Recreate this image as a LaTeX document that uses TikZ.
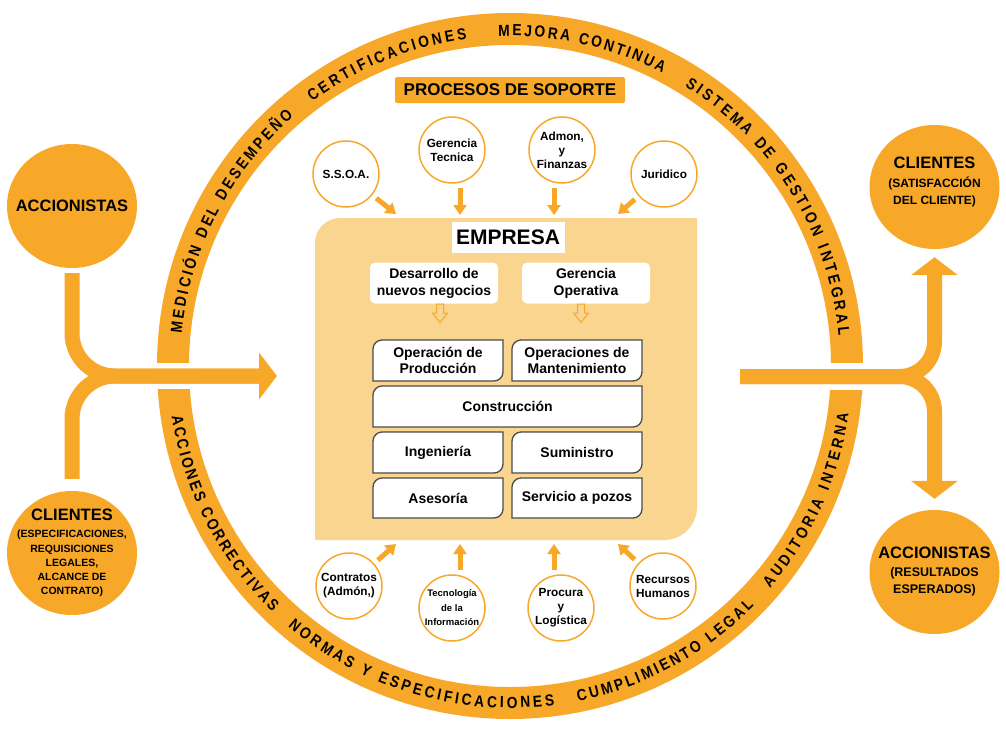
\documentclass[tikz,border=0pt]{standalone}
\usepackage{fontspec}
\setmainfont{Liberation Sans}
\newfontfamily\ringfam{Liberation Sans}[FakeStretch=0.86]
\usetikzlibrary{decorations.text, arrows.meta, shapes.geometric, calc}
\definecolor{org}{HTML}{F7A829}
\definecolor{lightorg}{HTML}{F9D58F}
\definecolor{edge}{HTML}{4A4A4A}
\newcommand\ringfont{\ringfam\bfseries\fontsize{16}{16}\selectfont}
\newcommand\ringtext[4]{%
  \path[decorate,decoration={text along path,text align={fit to path},text={|\ringfont|#4}}]
    (ctr) ++(#1:#3) arc[start angle=#1,end angle=#2,radius=#3];}
\newcommand\gridbox[6]{%
  \draw[gridline] (#2,#5) -- (#2,#3+9) arc[start angle=180,end angle=270,radius=9]
    -- (#4,#3) -- (#4,#5-9) arc[start angle=0,end angle=90,radius=9] -- cycle;
  \node[gridtext] (#1) at ({(#2+#4)/2},{(#3+#5)/2}) {#6};}
\begin{document}
\begin{tikzpicture}[x=1pt,y=-1pt,
  flow/.style={draw=org, line width=15pt},
  bighead/.style={-{Triangle[width=46pt,length=18pt]}},
  sarrow/.style={draw=org, line width=5pt, -{Triangle[width=13pt,length=10pt]}},
  wcirc/.style={circle, draw=org, line width=1.5pt, fill=white, minimum size=66pt, inner sep=0pt, align=center, font=\bfseries\fontsize{11.8}{14}\selectfont},
  ocirc/.style={ellipse, fill=org, minimum width=130pt, minimum height=124pt, inner sep=0pt},
  otext/.style={align=center, inner sep=0pt},
  wbox/.style={rectangle, fill=white, rounded corners=5pt, minimum width=128pt, minimum height=41pt, inner sep=0pt, align=center, font=\bfseries\fontsize{14}{17}\selectfont},
  gridline/.style={draw=edge, line width=1.3pt, fill=white},
  gridtext/.style={align=center, inner sep=0pt, font=\bfseries\fontsize{14}{16}\selectfont}]
\useasboundingbox (0,0) rectangle (1006,736);
\coordinate (ctr) at (510,366);
% ring
\draw[org, line width=32pt] (ctr) circle[radius=337];
\fill[white] (150,363) rectangle (200,389);
\fill[white] (815,363) rectangle (872,390);
% ring texts
\ringtext{-174.4}{-131}{330}{MEDICIÓN DEL DESEMPEÑO}
\ringtext{-126.8}{-97.5}{330}{CERTIFICACIONES}
\ringtext{-92}{-62.5}{330}{MEJORA CONTINUA}
\ringtext{-58}{-5.3}{330}{SISTEMA DE GESTION INTEGRAL}
\ringtext{-188.5}{-226}{342}{ACCIONES CORRECTIVAS}
\ringtext{-229.5}{-277.5}{342}{NORMAS Y ESPECIFICACIONES}
\ringtext{-281.5}{-315.5}{342}{CUMPLIMIENTO LEGAL}
\ringtext{-319.5}{-352}{342}{AUDITORIA INTERNA}
% big side circles
\node[ocirc] (acc1) at (72,206) {};
\node[otext, font=\bfseries\fontsize{16.5}{20}\selectfont] (acc1t) at (acc1) {ACCIONISTAS};
\node[ocirc] (cli1) at (72,553) {};
\node[otext, font=\bfseries\fontsize{10.5}{14.3}\selectfont] (cli1t) at (cli1)
  {{\fontsize{16.5}{18}\selectfont CLIENTES}\\[3pt](ESPECIFICACIONES,\\REQUISICIONES\\LEGALES,\\ALCANCE DE\\CONTRATO)};
\node[ocirc] (cli2) at (934.5,187) {};
\node[otext, font=\bfseries\fontsize{12}{17}\selectfont] (cli2t) at ([yshift=5pt]cli2.center)
  {{\fontsize{16.5}{18}\selectfont CLIENTES}\\[2pt](SATISFACCIÓN\\DEL CLIENTE)};
\node[ocirc] (acc2) at (934.5,572) {};
\node[otext, font=\bfseries\fontsize{12.5}{17}\selectfont] (acc2t) at (acc2)
  {{\fontsize{16.5}{18}\selectfont ACCIONISTAS}\\[1pt](RESULTADOS\\ESPERADOS)};
% left flow
\coordinate (tipL) at (277,376);
\draw[flow, bighead, rounded corners=43, shorten <=5pt] (acc1.south) |- (tipL);
\draw[flow, rounded corners=43, shorten <=12pt, shorten >=18pt] (cli1.north) |- (tipL);
% right flow
\coordinate (srcR) at (740,376.5);
\draw[flow, bighead, rounded corners=35, shorten >=8pt] (srcR) -| (cli2.south);
\draw[flow, bighead, rounded corners=35, shorten >=11pt] (srcR) -| (acc2.north);
% banner
\node[fill=org, minimum width=230pt, minimum height=26pt, rounded corners=2pt, inner sep=0pt,
  font=\bfseries\fontsize{17}{17}\selectfont] (ps) at (510,90) {PROCESOS DE SOPORTE};
% empresa area
\fill[lightorg] (315,540) -- (315,243) arc[start angle=180,end angle=270,radius=25]
  -- (697,218) -- (697,507) arc[start angle=0,end angle=90,radius=33] -- cycle;
\node[fill=white, minimum width=113pt, minimum height=31pt, inner sep=0pt,
  font=\bfseries\fontsize{21}{21}\selectfont] (emp) at (508,237) {EMPRESA};
\node[wbox] (des) at (434,283) {Desarrollo de\\nuevos negocios};
\node[wbox] (gop) at (586,283) {Gerencia\\Operativa};
\draw[org, fill=lightorg, line width=1pt] (436.5,304) -- (443.5,304) -- (443.5,313) -- (447.5,313)
  -- (440,322.5) -- (432.5,313) -- (436.5,313) -- cycle;
\draw[org, fill=lightorg, line width=1pt] (577.5,304) -- (584.5,304) -- (584.5,313) -- (588.5,313)
  -- (581,322.5) -- (573.5,313) -- (577.5,313) -- cycle;
\gridbox{opp}{373}{340}{503}{381}{Operación de\\Producción}
\gridbox{opm}{512}{340}{642}{381}{Operaciones de\\Mantenimiento}
\gridbox{cons}{373}{386}{642}{427}{Construcción}
\gridbox{ing}{373}{432}{503}{473}{Ingeniería}
\gridbox{sum}{512}{432}{642}{473}{Suministro}
\gridbox{ase}{373}{478}{503}{518}{Asesoría}
\gridbox{ser}{512}{478}{642}{518}{Servicio a pozos}
% support circles top
\node[wcirc] (ssoa) at (346,174) {S.S.O.A.};
\node[wcirc] (ger) at (452,150) {Gerencia\\Tecnica};
\node[wcirc] (adm) at (562,150) {Admon,\\y\\Finanzas};
\node[wcirc] (jur) at (664,174) {Juridico};
\coordinate (t1) at (396,214);
\coordinate (t2) at (460,215);
\coordinate (t3) at (554,215);
\coordinate (t4) at (618,214);
\draw[sarrow, shorten <=5pt] (ssoa) -- (t1);
\draw[sarrow, shorten <=4pt] (ger.south -| t2) -- (t2);
\draw[sarrow, shorten <=4pt] (adm.south -| t3) -- (t3);
\draw[sarrow, shorten <=5pt] (jur) -- (t4);
% support circles bottom
\node[wcirc] (con) at (349,586) {Contratos\\(Admón,)};
\node[wcirc, font=\bfseries\fontsize{9.5}{14.5}\selectfont] (tec) at (452,608) {Tecnología\\de la\\Información};
\node[wcirc] (pro) at (561,608) {Procura\\y\\Logística};
\node[wcirc] (rh) at (663,586) {Recursos\\Humanos};
\coordinate (b1) at (396,544);
\coordinate (b2) at (460,544);
\coordinate (b3) at (554,544);
\coordinate (b4) at (618,544);
\draw[sarrow, shorten <=5pt] (con) -- (b1);
\draw[sarrow, shorten <=4pt] (tec.north -| b2) -- (b2);
\draw[sarrow, shorten <=4pt] (pro.north -| b3) -- (b3);
\draw[sarrow, shorten <=5pt] (rh) -- (b4);
\end{tikzpicture}
\end{document}
